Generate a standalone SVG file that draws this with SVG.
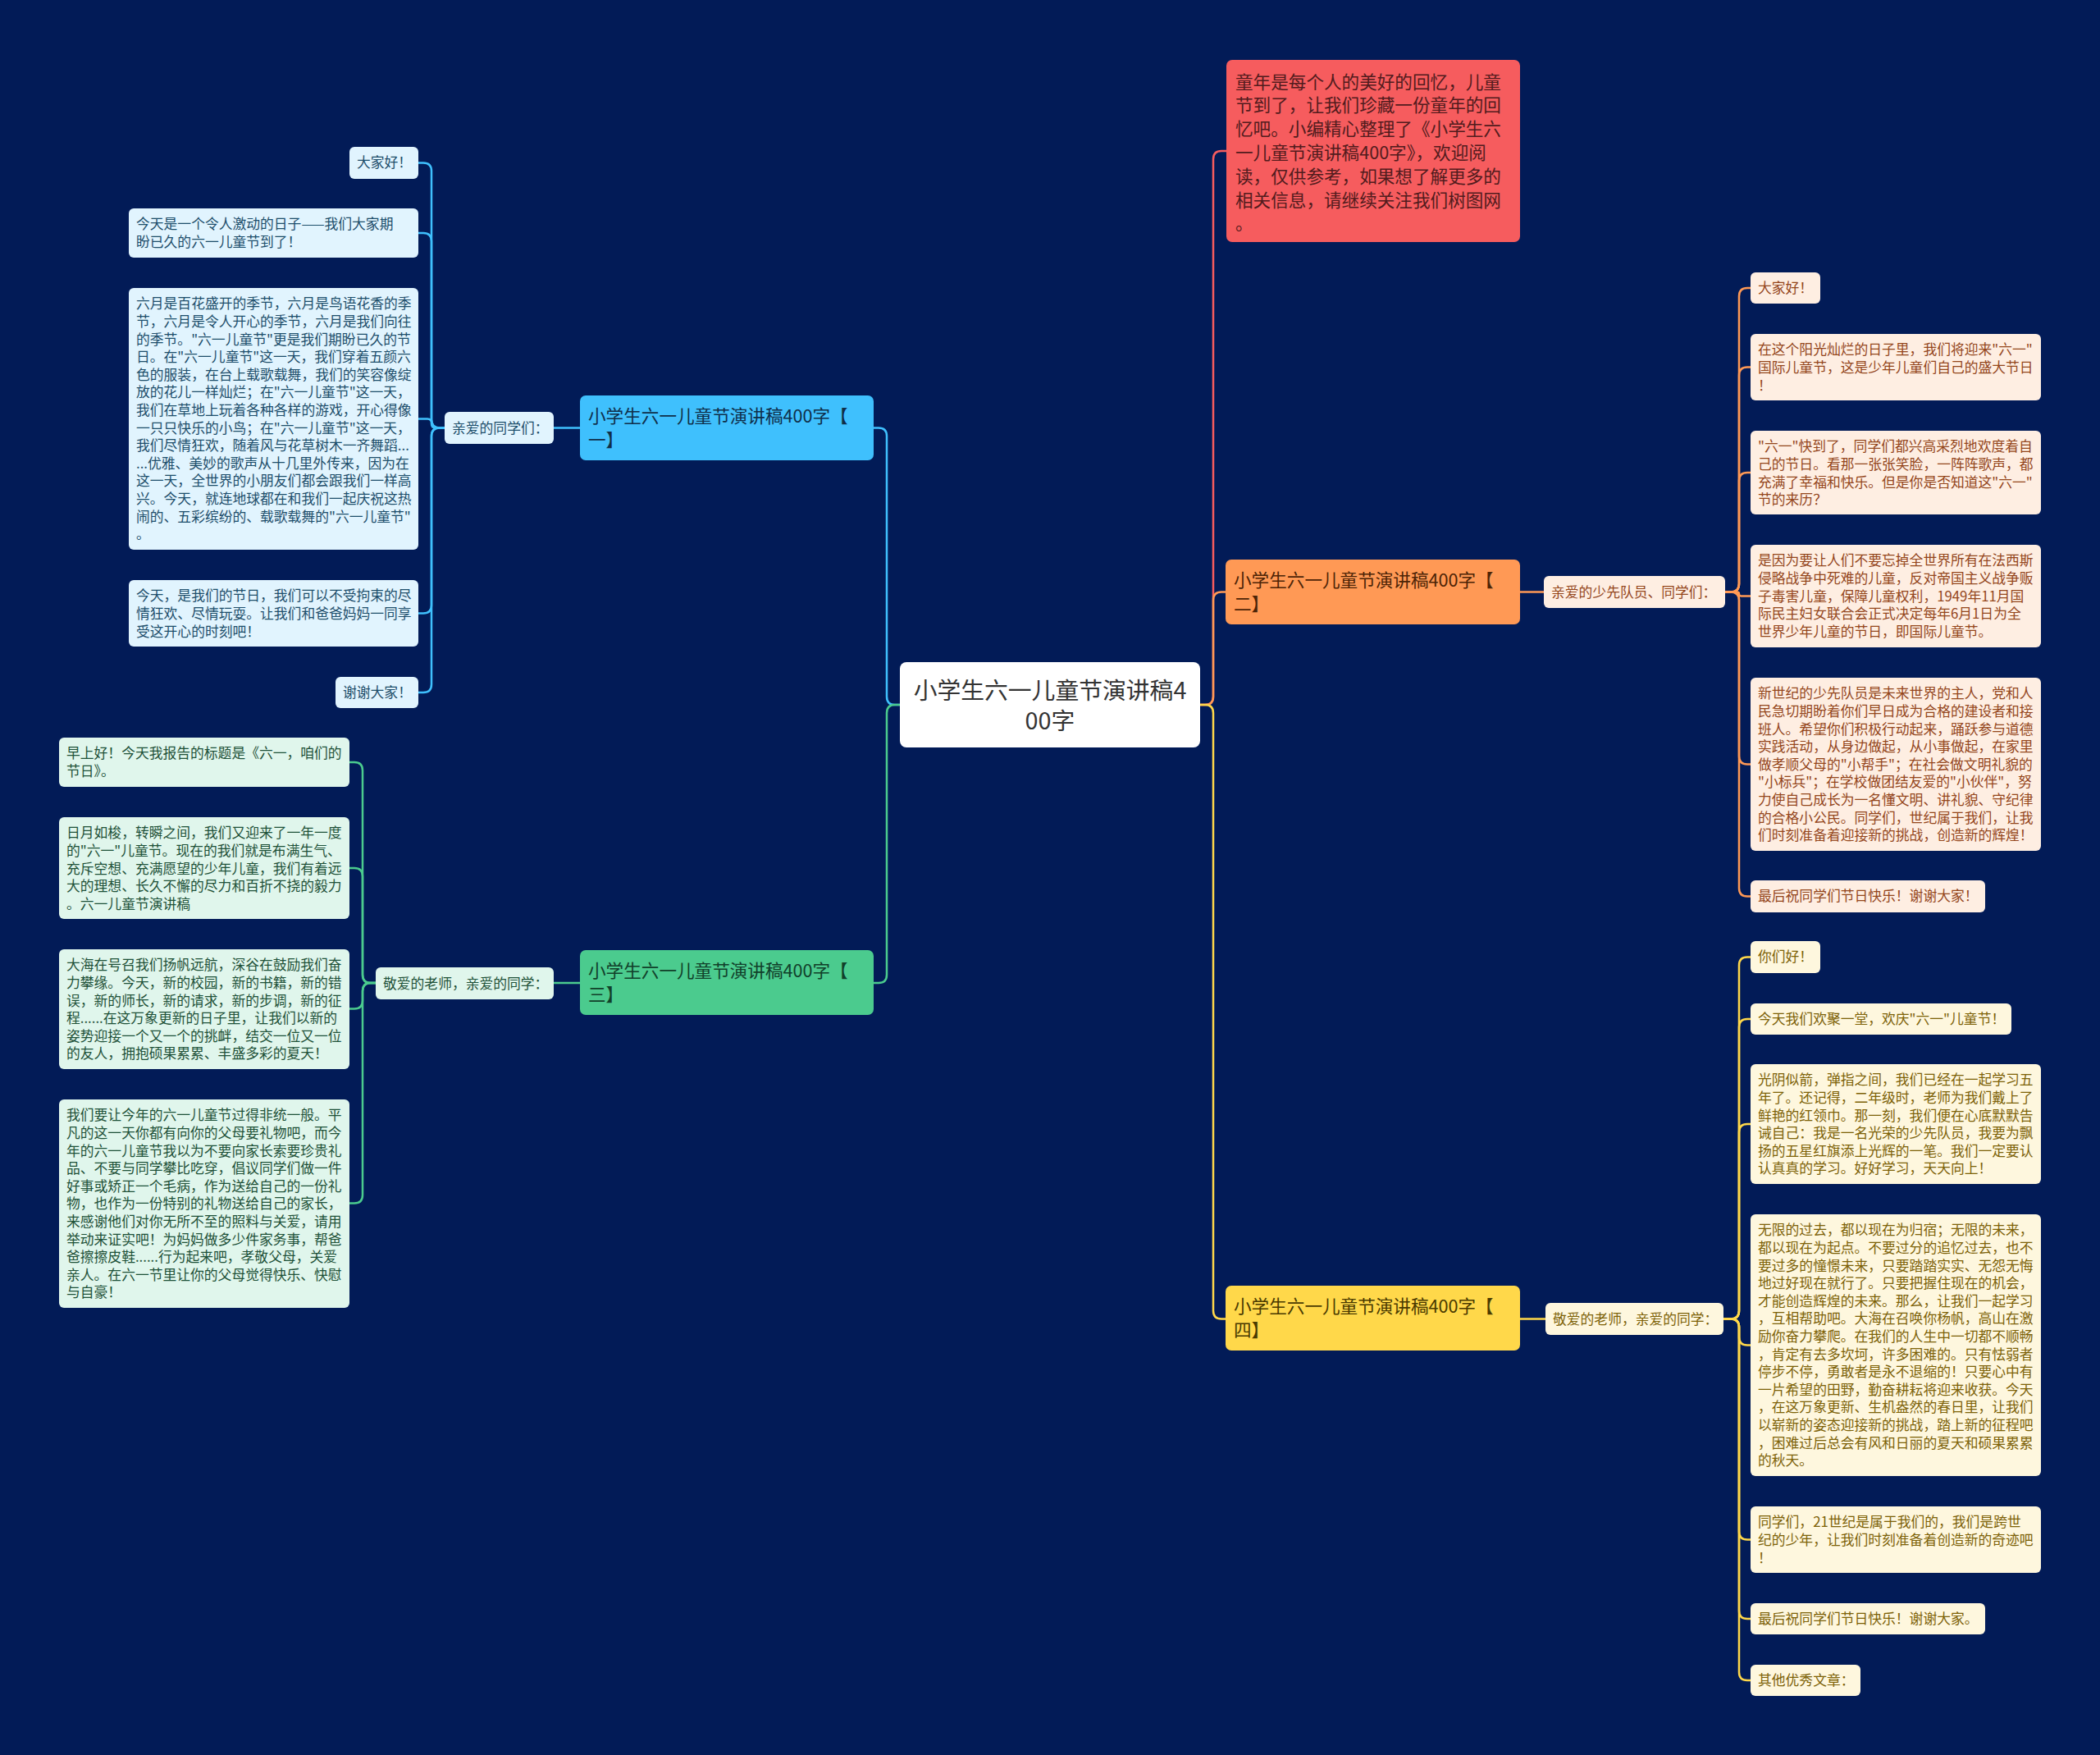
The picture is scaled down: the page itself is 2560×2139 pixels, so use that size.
<svg xmlns="http://www.w3.org/2000/svg" width="2560" height="2139" viewBox="0 0 2560 2139">
<style>
text{font-family:"Noto Sans CJK SC","Noto Sans",sans-serif;}
.leaf{font-size:16.8px;}
.br{font-size:21.6px;}
.c{fill:none;stroke-width:2.5;stroke-linecap:round;}
.cb{stroke:#3fc0fd;}.cr{stroke:#f65c5e;}.co{stroke:#ff9955;}.cg{stroke:#4bcb8e;}.cy{stroke:#ffd84a;}
.fb{fill:#e1f4fe;}.tb{fill:#1d4e6b;}
.fg{fill:#e0f6ec;}.tg{fill:#1e5138;}
.fo{fill:#feeee2;}.to{fill:#94461c;}
.fy{fill:#fef7de;}.ty{fill:#7d6208;}
</style>
<rect x="0" y="0" width="2560" height="2139" fill="#021b57"/>

<g id="connectors">
<path class="c cr" d="M1463 859 H1469 Q1479 859 1479 849 V194 Q1479 184 1489 184 H1495"/>
<path class="c co" d="M1463 859 H1469 Q1479 859 1479 849 V731.5 Q1479 721.5 1489 721.5 H1494"/>
<path class="c cy" d="M1463 859 H1469 Q1479 859 1479 869 V1597.5 Q1479 1607.5 1489 1607.5 H1494"/>
<path class="c cb" d="M1097 859 H1091 Q1081 859 1081 849 V531.5 Q1081 521.5 1071 521.5 H1065"/>
<path class="c cg" d="M1097 859 H1091 Q1081 859 1081 869 V1188 Q1081 1198 1071 1198 H1065"/>

<path class="c cb" d="M708 521.5 H675"/>
<path class="c cb" d="M542 521.5 H536 Q526 521.5 526 511.5 V208.5 Q526 198.5 516 198.5 H510"/>
<path class="c cb" d="M542 521.5 H536 Q526 521.5 526 511.5 V294 Q526 284 516 284 H510"/>
<path class="c cb" d="M542 521.5 H531 Q526 521.5 526 516.5 V515.5 Q526 510.5 521 510.5 H510"/>
<path class="c cb" d="M542 521.5 H536 Q526 521.5 526 531.5 V737.5 Q526 747.5 516 747.5 H510"/>
<path class="c cb" d="M542 521.5 H536 Q526 521.5 526 531.5 V834 Q526 844 516 844 H510"/>

<path class="c cg" d="M708 1198 H675"/>
<path class="c cg" d="M458 1198 H452 Q442 1198 442 1188 V939 Q442 929 432 929 H426"/>
<path class="c cg" d="M458 1198 H452 Q442 1198 442 1188 V1068 Q442 1058 432 1058 H426"/>
<path class="c cg" d="M458 1198 H452 Q442 1198 442 1208 V1219.5 Q442 1229.5 432 1229.5 H426"/>
<path class="c cg" d="M458 1198 H452 Q442 1198 442 1208 V1456.5 Q442 1466.5 432 1466.5 H426"/>

<path class="c co" d="M1853 721.5 H1882"/>
<path class="c co" d="M2103 721.5 H2110 Q2120 721.5 2120 711.5 V361 Q2120 351 2130 351 H2134"/>
<path class="c co" d="M2103 721.5 H2110 Q2120 721.5 2120 711.5 V457.5 Q2120 447.5 2130 447.5 H2134"/>
<path class="c co" d="M2103 721.5 H2110 Q2120 721.5 2120 711.5 V586 Q2120 576 2130 576 H2134"/>
<path class="c co" d="M2103 721.5 H2117.5 Q2120 721.5 2120 724 Q2120 726.5 2122.5 726.5 H2134"/>
<path class="c co" d="M2103 721.5 H2110 Q2120 721.5 2120 731.5 V921.5 Q2120 931.5 2130 931.5 H2134"/>
<path class="c co" d="M2103 721.5 H2110 Q2120 721.5 2120 731.5 V1082.5 Q2120 1092.5 2130 1092.5 H2134"/>

<path class="c cy" d="M1853 1607.5 H1884"/>
<path class="c cy" d="M2101 1607.5 H2110 Q2120 1607.5 2120 1597.5 V1176.5 Q2120 1166.5 2130 1166.5 H2134"/>
<path class="c cy" d="M2101 1607.5 H2110 Q2120 1607.5 2120 1597.5 V1252 Q2120 1242 2130 1242 H2134"/>
<path class="c cy" d="M2101 1607.5 H2110 Q2120 1607.5 2120 1597.5 V1380 Q2120 1370 2130 1370 H2134"/>
<path class="c cy" d="M2101 1607.5 H2110 Q2120 1607.5 2120 1617.5 V1629.5 Q2120 1639.5 2130 1639.5 H2134"/>
<path class="c cy" d="M2101 1607.5 H2110 Q2120 1607.5 2120 1617.5 V1866.5 Q2120 1876.5 2130 1876.5 H2134"/>
<path class="c cy" d="M2101 1607.5 H2110 Q2120 1607.5 2120 1617.5 V1963 Q2120 1973 2130 1973 H2134"/>
<path class="c cy" d="M2101 1607.5 H2110 Q2120 1607.5 2120 1617.5 V2038 Q2120 2048 2130 2048 H2134"/>
</g>

<g id="center">
<rect x="1097" y="807" width="366" height="104" rx="8" fill="#ffffff"/>
<text x="1280" text-anchor="middle" font-size="28.8" fill="#333333"><tspan x="1280" y="851.5">小学生六一儿童节演讲稿4</tspan><tspan x="1280" y="889">00字</tspan></text>
</g>

<g id="intro">
<rect x="1495" y="73" width="358" height="222" rx="7" fill="#f65c5e"/>
<text class="br" fill="#521b1d"><tspan x="1506" y="107.5">童年是每个人的美好的回忆，儿童</tspan><tspan x="1506" y="136.3">节到了，让我们珍藏一份童年的回</tspan><tspan x="1506" y="165.1">忆吧。小编精心整理了《小学生六</tspan><tspan x="1506" y="193.9">一儿童节演讲稿400字》，欢迎阅</tspan><tspan x="1506" y="222.7">读，仅供参考，如果想了解更多的</tspan><tspan x="1506" y="251.5">相关信息，请继续关注我们树图网</tspan><tspan x="1506" y="280.3">。</tspan></text>
</g>

<g id="branch1">
<rect x="707" y="482" width="358" height="79" rx="7" fill="#3fc0fd"/>
<text class="br" fill="#0f2f4a"><tspan x="717" y="515">小学生六一儿童节演讲稿400字【</tspan><tspan x="717" y="544">一】</tspan></text>
</g>
<g id="label1">
<rect x="542" y="502" width="133" height="39" rx="6" class="fb"/>
<text class="leaf tb" x="551" y="528">亲爱的同学们：</text>
</g>
<g id="leaf1-1">
<rect x="426" y="179" width="84" height="39" rx="6" class="fb"/>
<text class="leaf tb" x="435" y="204.4">大家好！</text>
</g>
<g id="leaf1-2">
<rect x="157" y="254" width="353" height="60" rx="6" class="fb"/>
<text class="leaf tb"><tspan x="166" y="279.4">今天是一个令人激动的日子——我们大家期</tspan><tspan x="166" y="301">盼已久的六一儿童节到了！</tspan></text>
</g>
<g id="leaf1-3">
<rect x="157" y="351" width="353" height="319" rx="6" class="fb"/>
<text class="leaf tb"><tspan x="166" y="376.4">六月是百花盛开的季节，六月是鸟语花香的季</tspan><tspan x="166" y="398">节，六月是令人开心的季节，六月是我们向往</tspan><tspan x="166" y="419.6">的季节。"六一儿童节"更是我们期盼已久的节</tspan><tspan x="166" y="441.2">日。在"六一儿童节"这一天，我们穿着五颜六</tspan><tspan x="166" y="462.8">色的服装，在台上载歌载舞，我们的笑容像绽</tspan><tspan x="166" y="484.4">放的花儿一样灿烂；在"六一儿童节"这一天，</tspan><tspan x="166" y="506">我们在草地上玩着各种各样的游戏，开心得像</tspan><tspan x="166" y="527.6">一只只快乐的小鸟；在"六一儿童节"这一天，</tspan><tspan x="166" y="549.2">我们尽情狂欢，随着风与花草树木一齐舞蹈...</tspan><tspan x="166" y="570.8">...优雅、美妙的歌声从十几里外传来，因为在</tspan><tspan x="166" y="592.4">这一天，全世界的小朋友们都会跟我们一样高</tspan><tspan x="166" y="614">兴。今天，就连地球都在和我们一起庆祝这热</tspan><tspan x="166" y="635.6">闹的、五彩缤纷的、载歌载舞的"六一儿童节"</tspan><tspan x="166" y="657.2">。</tspan></text>
</g>
<g id="leaf1-4">
<rect x="157" y="707" width="353" height="81" rx="6" class="fb"/>
<text class="leaf tb"><tspan x="166" y="732.4">今天，是我们的节日，我们可以不受拘束的尽</tspan><tspan x="166" y="754">情狂欢、尽情玩耍。让我们和爸爸妈妈一同享</tspan><tspan x="166" y="775.6">受这开心的时刻吧！</tspan></text>
</g>
<g id="leaf1-5">
<rect x="409" y="825" width="101" height="38" rx="6" class="fb"/>
<text class="leaf tb" x="418" y="850.4">谢谢大家！</text>
</g>

<g id="branch3">
<rect x="707" y="1158" width="358" height="79" rx="7" fill="#4bcb8e"/>
<text class="br" fill="#11402a"><tspan x="717" y="1191">小学生六一儿童节演讲稿400字【</tspan><tspan x="717" y="1220">三】</tspan></text>
</g>
<g id="label3">
<rect x="458" y="1179" width="217" height="39" rx="6" class="fg"/>
<text class="leaf tg" x="467" y="1205">敬爱的老师，亲爱的同学：</text>
</g>
<g id="leaf3-1">
<rect x="72" y="899" width="354" height="60" rx="6" class="fg"/>
<text class="leaf tg"><tspan x="81" y="924.4">早上好！今天我报告的标题是《六一，咱们的</tspan><tspan x="81" y="946">节日》。</tspan></text>
</g>
<g id="leaf3-2">
<rect x="72" y="996" width="354" height="124" rx="6" class="fg"/>
<text class="leaf tg"><tspan x="81" y="1021.4">日月如梭，转瞬之间，我们又迎来了一年一度</tspan><tspan x="81" y="1043">的"六一"儿童节。现在的我们就是布满生气、</tspan><tspan x="81" y="1064.6">充斥空想、充满愿望的少年儿童，我们有着远</tspan><tspan x="81" y="1086.2">大的理想、长久不懈的尽力和百折不挠的毅力</tspan><tspan x="81" y="1107.8">。六一儿童节演讲稿</tspan></text>
</g>
<g id="leaf3-3">
<rect x="72" y="1157" width="354" height="146" rx="6" class="fg"/>
<text class="leaf tg"><tspan x="81" y="1182.4">大海在号召我们扬帆远航，深谷在鼓励我们奋</tspan><tspan x="81" y="1204">力攀缘。今天，新的校园，新的书籍，新的错</tspan><tspan x="81" y="1225.6">误，新的师长，新的请求，新的步调，新的征</tspan><tspan x="81" y="1247.2">程......在这万象更新的日子里，让我们以新的</tspan><tspan x="81" y="1268.8">姿势迎接一个又一个的挑衅，结交一位又一位</tspan><tspan x="81" y="1290.4">的友人，拥抱硕果累累、丰盛多彩的夏天！</tspan></text>
</g>
<g id="leaf3-4">
<rect x="72" y="1340" width="354" height="254" rx="6" class="fg"/>
<text class="leaf tg"><tspan x="81" y="1365.4">我们要让今年的六一儿童节过得非统一般。平</tspan><tspan x="81" y="1387">凡的这一天你都有向你的父母要礼物吧，而今</tspan><tspan x="81" y="1408.6">年的六一儿童节我以为不要向家长索要珍贵礼</tspan><tspan x="81" y="1430.2">品、不要与同学攀比吃穿，倡议同学们做一件</tspan><tspan x="81" y="1451.8">好事或矫正一个毛病，作为送给自己的一份礼</tspan><tspan x="81" y="1473.4">物，也作为一份特别的礼物送给自己的家长，</tspan><tspan x="81" y="1495">来感谢他们对你无所不至的照料与关爱，请用</tspan><tspan x="81" y="1516.6">举动来证实吧！为妈妈做多少件家务事，帮爸</tspan><tspan x="81" y="1538.2">爸擦擦皮鞋......行为起来吧，孝敬父母，关爱</tspan><tspan x="81" y="1559.8">亲人。在六一节里让你的父母觉得快乐、快慰</tspan><tspan x="81" y="1581.4">与自豪！</tspan></text>
</g>

<g id="branch2">
<rect x="1494" y="682" width="359" height="79" rx="7" fill="#ff9955"/>
<text class="br" fill="#4d2406"><tspan x="1504" y="715">小学生六一儿童节演讲稿400字【</tspan><tspan x="1504" y="744">二】</tspan></text>
</g>
<g id="label2">
<rect x="1882" y="702" width="221" height="39" rx="6" class="fo"/>
<text class="leaf to" x="1891" y="728">亲爱的少先队员、同学们：</text>
</g>
<g id="leaf2-1">
<rect x="2134" y="332" width="85" height="38" rx="6" class="fo"/>
<text class="leaf to" x="2143" y="357.4">大家好！</text>
</g>
<g id="leaf2-2">
<rect x="2134" y="407" width="354" height="81" rx="6" class="fo"/>
<text class="leaf to"><tspan x="2143" y="432.4">在这个阳光灿烂的日子里，我们将迎来"六一"</tspan><tspan x="2143" y="454">国际儿童节，这是少年儿童们自己的盛大节日</tspan><tspan x="2143" y="475.6">！</tspan></text>
</g>
<g id="leaf2-3">
<rect x="2134" y="525" width="354" height="102" rx="6" class="fo"/>
<text class="leaf to"><tspan x="2143" y="550.4">"六一"快到了，同学们都兴高采烈地欢度着自</tspan><tspan x="2143" y="572">己的节日。看那一张张笑脸，一阵阵歌声，都</tspan><tspan x="2143" y="593.6">充满了幸福和快乐。但是你是否知道这"六一"</tspan><tspan x="2143" y="615.2">节的来历？</tspan></text>
</g>
<g id="leaf2-4">
<rect x="2134" y="664" width="354" height="125" rx="6" class="fo"/>
<text class="leaf to"><tspan x="2143" y="689.4">是因为要让人们不要忘掉全世界所有在法西斯</tspan><tspan x="2143" y="711">侵略战争中死难的儿童，反对帝国主义战争贩</tspan><tspan x="2143" y="732.6">子毒害儿童，保障儿童权利，1949年11月国</tspan><tspan x="2143" y="754.2">际民主妇女联合会正式决定每年6月1日为全</tspan><tspan x="2143" y="775.8">世界少年儿童的节日，即国际儿童节。</tspan></text>
</g>
<g id="leaf2-5">
<rect x="2134" y="826" width="354" height="211" rx="6" class="fo"/>
<text class="leaf to"><tspan x="2143" y="851.4">新世纪的少先队员是未来世界的主人，党和人</tspan><tspan x="2143" y="873">民急切期盼着你们早日成为合格的建设者和接</tspan><tspan x="2143" y="894.6">班人。希望你们积极行动起来，踊跃参与道德</tspan><tspan x="2143" y="916.2">实践活动，从身边做起，从小事做起，在家里</tspan><tspan x="2143" y="937.8">做孝顺父母的"小帮手"；在社会做文明礼貌的</tspan><tspan x="2143" y="959.4">"小标兵"；在学校做团结友爱的"小伙伴"，努</tspan><tspan x="2143" y="981">力使自己成长为一名懂文明、讲礼貌、守纪律</tspan><tspan x="2143" y="1002.6">的合格小公民。同学们，世纪属于我们，让我</tspan><tspan x="2143" y="1024.2">们时刻准备着迎接新的挑战，创造新的辉煌！</tspan></text>
</g>
<g id="leaf2-6">
<rect x="2134" y="1073" width="286" height="39" rx="6" class="fo"/>
<text class="leaf to" x="2143" y="1098.4">最后祝同学们节日快乐！谢谢大家！</text>
</g>

<g id="branch4">
<rect x="1494" y="1567" width="359" height="79" rx="7" fill="#ffd84a"/>
<text class="br" fill="#4a3a00"><tspan x="1504" y="1600">小学生六一儿童节演讲稿400字【</tspan><tspan x="1504" y="1629">四】</tspan></text>
</g>
<g id="label4">
<rect x="1884" y="1588" width="217" height="39" rx="6" class="fy"/>
<text class="leaf ty" x="1893" y="1614">敬爱的老师，亲爱的同学：</text>
</g>
<g id="leaf4-1">
<rect x="2134" y="1147" width="85" height="39" rx="6" class="fy"/>
<text class="leaf ty" x="2143" y="1172.4">你们好！</text>
</g>
<g id="leaf4-2">
<rect x="2134" y="1223" width="318" height="38" rx="6" class="fy"/>
<text class="leaf ty" x="2143" y="1248.4">今天我们欢聚一堂，欢庆"六一"儿童节！</text>
</g>
<g id="leaf4-3">
<rect x="2134" y="1297" width="354" height="146" rx="6" class="fy"/>
<text class="leaf ty"><tspan x="2143" y="1322.4">光阴似箭，弹指之间，我们已经在一起学习五</tspan><tspan x="2143" y="1344">年了。还记得，二年级时，老师为我们戴上了</tspan><tspan x="2143" y="1365.6">鲜艳的红领巾。那一刻，我们便在心底默默告</tspan><tspan x="2143" y="1387.2">诫自己：我是一名光荣的少先队员，我要为飘</tspan><tspan x="2143" y="1408.8">扬的五星红旗添上光辉的一笔。我们一定要认</tspan><tspan x="2143" y="1430.4">认真真的学习。好好学习，天天向上！</tspan></text>
</g>
<g id="leaf4-4">
<rect x="2134" y="1480" width="354" height="319" rx="6" class="fy"/>
<text class="leaf ty"><tspan x="2143" y="1505.4">无限的过去，都以现在为归宿；无限的未来，</tspan><tspan x="2143" y="1527">都以现在为起点。不要过分的追忆过去，也不</tspan><tspan x="2143" y="1548.6">要过多的憧憬未来，只要踏踏实实、无怨无悔</tspan><tspan x="2143" y="1570.2">地过好现在就行了。只要把握住现在的机会，</tspan><tspan x="2143" y="1591.8">才能创造辉煌的未来。那么，让我们一起学习</tspan><tspan x="2143" y="1613.4">，互相帮助吧。大海在召唤你杨帆，高山在激</tspan><tspan x="2143" y="1635">励你奋力攀爬。在我们的人生中一切都不顺畅</tspan><tspan x="2143" y="1656.6">，肯定有去多坎坷，许多困难的。只有怯弱者</tspan><tspan x="2143" y="1678.2">停步不停，勇敢者是永不退缩的！只要心中有</tspan><tspan x="2143" y="1699.8">一片希望的田野，勤奋耕耘将迎来收获。今天</tspan><tspan x="2143" y="1721.4">，在这万象更新、生机盎然的春日里，让我们</tspan><tspan x="2143" y="1743">以崭新的姿态迎接新的挑战，踏上新的征程吧</tspan><tspan x="2143" y="1764.6">，困难过后总会有风和日丽的夏天和硕果累累</tspan><tspan x="2143" y="1786.2">的秋天。</tspan></text>
</g>
<g id="leaf4-5">
<rect x="2134" y="1836" width="354" height="81" rx="6" class="fy"/>
<text class="leaf ty"><tspan x="2143" y="1861.4">同学们，21世纪是属于我们的，我们是跨世</tspan><tspan x="2143" y="1883">纪的少年，让我们时刻准备着创造新的奇迹吧</tspan><tspan x="2143" y="1904.6">！</tspan></text>
</g>
<g id="leaf4-6">
<rect x="2134" y="1954" width="286" height="38" rx="6" class="fy"/>
<text class="leaf ty" x="2143" y="1979.4">最后祝同学们节日快乐！谢谢大家。</text>
</g>
<g id="leaf4-7">
<rect x="2134" y="2029" width="134" height="38" rx="6" class="fy"/>
<text class="leaf ty" x="2143" y="2054.4">其他优秀文章：</text>
</g>
</svg>
